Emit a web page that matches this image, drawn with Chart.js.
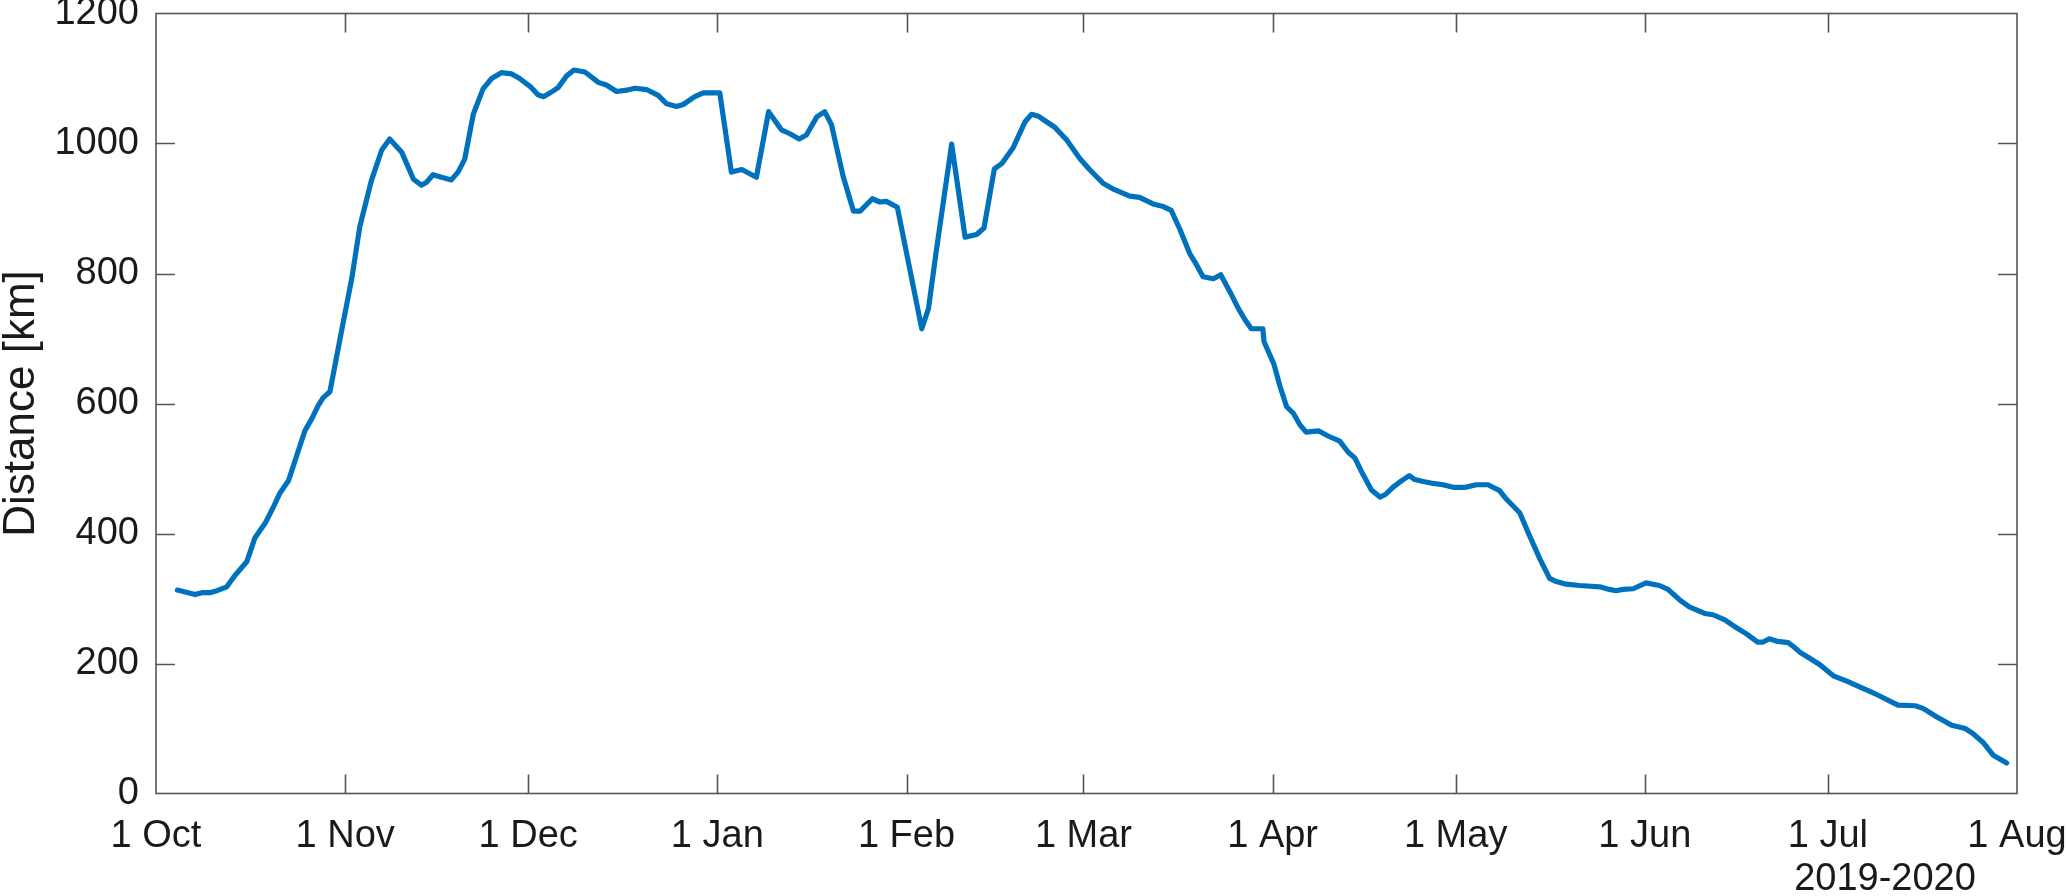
<!DOCTYPE html>
<html>
<head>
<meta charset="utf-8">
<script src="https://cdn.jsdelivr.net/npm/chart.js@4/dist/chart.umd.min.js"></script>
<style>
  html, body { margin: 0; padding: 0; background: #ffffff; }
  canvas { display: block; }
</style>
</head>
<body>
<canvas id="c" width="2067" height="896"></canvas>
<script>
// Days counted from 1 Oct 2019
const days = [
  3.5, 6.4, 7.5, 8.8, 10.0, 11.6, 12.9, 14.9, 16.2, 17.9, 19.2, 20.3, 21.7, 23.0, 24.4, 25.5, 26.6, 27.4, 28.5,
  30.4, 32.1, 33.4, 35.3, 37.0, 38.3, 40.3, 42.2, 43.5, 44.3, 45.4, 46.8, 48.4, 49.5, 50.6, 52.0, 53.6, 55.0,
  56.6, 58.3, 59.6, 61.3, 62.6, 63.5, 64.6, 65.9, 67.3, 68.5, 70.3, 72.5, 73.8, 75.5, 77.1, 78.5, 80.4, 82.3,
  83.7, 85.3, 86.4, 88.3, 89.7, 92.4, 94.3, 96.0, 98.4, 100.4, 102.5, 103.9, 105.4, 106.6, 108.3, 109.6, 110.7,
  112.6, 114.3, 115.4, 117.4, 118.6, 119.7, 121.5, 125.5, 126.6, 127.8, 130.4, 132.6, 134.5, 135.7, 137.4,
  138.6, 140.5, 142.4, 143.5, 144.6, 145.7, 147.3, 149.2, 151.4, 153.0, 155.2, 157.1, 159.6, 161.2, 163.4,
  165.1, 166.4, 167.8, 169.4, 170.5, 171.6, 173.3, 174.5, 176.0, 177.4, 178.4, 179.5, 181.4, 181.6, 183.2,
  184.2, 185.3, 186.4, 187.5, 188.5, 190.5, 192.1, 194.0, 195.4, 196.5, 197.8, 199.2, 200.6, 201.5, 202.7,
  204.1, 205.4, 206.3, 207.7, 209.3, 210.9, 212.6, 214.5, 216.4, 218.3, 220.2, 221.3, 223.5, 224.9, 226.8,
  228.4, 229.5, 231.1, 233.3, 236.6, 238.2, 239.3, 240.4, 242.1, 244.2, 246.4, 247.8, 249.7, 251.3, 253.8,
  255.2, 257.1, 258.7, 260.6, 262.5, 263.4, 264.4, 265.8, 267.5, 268.5, 269.6, 270.7, 272.7, 274.9, 277.3,
  279.2, 280.9, 282.5, 284.4, 285.5, 288.3, 289.6, 291.8, 294.3, 296.5, 297.8, 299.5, 301.1, 303.3
];
const distanceKm = [
  313, 306, 309, 309, 312, 318, 335, 357, 393, 416, 440, 462, 481, 518, 558, 576, 597, 609, 618,
  711, 793, 872, 943, 990, 1007, 986, 945, 936, 940, 952, 948, 944, 956, 976, 1045, 1084, 1100,
  1109, 1107, 1100, 1088, 1075, 1072, 1078, 1086, 1104, 1113, 1110, 1094, 1090, 1080, 1082, 1085, 1083, 1074,
  1061, 1057, 1060, 1072, 1078, 1078, 956, 960, 948, 1049, 1021, 1015, 1007, 1013, 1041, 1049, 1029,
  950, 896, 896, 915, 910, 911, 902, 715, 746, 829, 999, 856, 860, 870, 961,
  969, 994, 1033, 1045, 1042, 1035, 1025, 1006, 977, 960, 939, 929, 919, 917, 907,
  903, 897, 868, 831, 814, 795, 792, 798, 772, 746, 730, 715, 715, 695, 661,
  627, 595, 585, 567, 556, 558, 550, 542, 525, 516, 491, 467, 456, 460, 471,
  481, 489, 483, 480, 477, 475, 471, 471, 475, 475, 466, 453, 432, 401, 361,
  331, 326, 322, 320, 318, 314, 312, 314, 315, 324, 320, 314, 298, 287, 277,
  275, 267, 257, 246, 233, 233, 238, 234, 232, 225, 216, 210, 198, 181, 172,
  164, 157, 150, 141, 136, 135, 131, 118, 105, 100, 92, 78, 59, 47
];
const tickDays = [0, 31, 61, 92, 123, 152, 183, 213, 244, 274, 305];
const tickLabels = ['1 Oct', '1 Nov', '1 Dec', '1 Jan', '1 Feb', '1 Mar', '1 Apr', '1 May', '1 Jun', '1 Jul', '1 Aug'];
const yTicks = [0, 200, 400, 600, 800, 1000, 1200];
const yearLabel = '2019-2020';
const yTitle = 'Distance [km]';

const FONT = '"Liberation Sans", Arial, Helvetica, sans-serif';
const TEXT = '#1a1a1a';
const AXIS = '#555555';
const TICKLEN = 19;

const framePlugin = {
  id: 'frame',
  afterDraw(chart) {
    const { ctx, chartArea: a, scales: { x, y } } = chart;
    ctx.save();
    ctx.strokeStyle = AXIS;
    ctx.lineWidth = 1.6;
    ctx.strokeRect(a.left, a.top, a.right - a.left, a.bottom - a.top);
    ctx.beginPath();
    x.ticks.forEach(t => {
      const px = Math.round(x.getPixelForValue(t.value)) + 0.5;
      if (px <= a.left + 2 || px >= a.right - 2) return;
      ctx.moveTo(px, a.bottom); ctx.lineTo(px, a.bottom - TICKLEN);
      ctx.moveTo(px, a.top); ctx.lineTo(px, a.top + TICKLEN);
    });
    y.ticks.forEach(t => {
      const py = Math.round(y.getPixelForValue(t.value)) + 0.5;
      if (py <= a.top + 2 || py >= a.bottom - 2) return;
      ctx.moveTo(a.left, py); ctx.lineTo(a.left + TICKLEN, py);
      ctx.moveTo(a.right, py); ctx.lineTo(a.right - TICKLEN, py);
    });
    ctx.stroke();
    ctx.fillStyle = TEXT;
    ctx.font = '38px ' + FONT;
    ctx.textAlign = 'center';
    ctx.textBaseline = 'middle';
    ctx.fillText(yearLabel, a.right - 132, a.bottom + 86);
    ctx.restore();
  }
};

new Chart(document.getElementById('c'), {
  type: 'line',
  data: {
    datasets: [{
      data: days.map((d, i) => ({ x: d, y: distanceKm[i] })),
      borderColor: '#0072BD',
      borderWidth: 5.2,
      pointRadius: 0,
      tension: 0,
      borderJoinStyle: 'round',
      borderCapStyle: 'round',
      fill: false
    }]
  },
  options: {
    responsive: false,
    animation: false,
    devicePixelRatio: 1,
    layout: { padding: { left: 0, right: 50, top: 13.5, bottom: 0 } },
    plugins: { legend: { display: false }, tooltip: { enabled: false } },
    scales: {
      x: {
        type: 'linear',
        min: tickDays[0],
        max: tickDays[tickDays.length - 1],
        afterBuildTicks: s => { s.ticks = tickDays.map(v => ({ value: v })); },
        afterFit: s => { s.height = 102.5; s.paddingLeft = 0; s.paddingRight = 0; },
        grid: { display: false, drawTicks: false },
        border: { display: false },
        ticks: {
          autoSkip: false,
          maxRotation: 0,
          padding: 20,
          color: TEXT,
          font: { family: FONT, size: 38 },
          callback: (v) => { const i = tickDays.indexOf(v); return i >= 0 ? tickLabels[i] : ''; }
        }
      },
      y: {
        type: 'linear',
        min: yTicks[0],
        max: yTicks[yTicks.length - 1],
        afterBuildTicks: s => { s.ticks = yTicks.map(v => ({ value: v })); },
        afterFit: s => { s.width = 156; s.paddingTop = 0; s.paddingBottom = 0; },
        grid: { display: false, drawTicks: false },
        border: { display: false },
        title: {
          display: true,
          text: yTitle,
          color: TEXT,
          font: { family: FONT, size: 44, lineHeight: 1 },
          padding: 0
        },
        ticks: {
          padding: 17,
          color: TEXT,
          font: { family: FONT, size: 38 },
          callback: (v) => String(v)
        }
      }
    }
  },
  plugins: [framePlugin]
});
</script>
</body>
</html>
